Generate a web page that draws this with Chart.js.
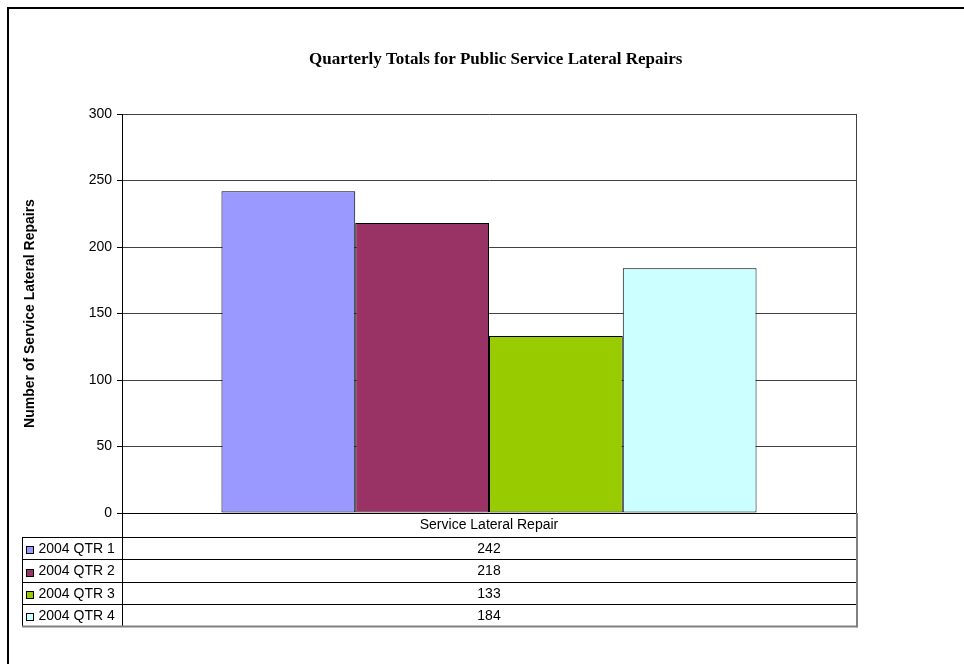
<!DOCTYPE html>
<html>
<head>
<meta charset="utf-8">
<script src="https://cdn.jsdelivr.net/npm/chart.js@4/dist/chart.umd.min.js"></script>
<style>
html,body{margin:0;padding:0;background:#fff;}
#wrap{width:964px;height:664px;position:relative;}
</style>
</head>
<body>
<div id="wrap"><canvas id="c" width="964" height="664"></canvas></div>
<script>
const categories = ['Service Lateral Repair'];
const seriesNames = ['2004 QTR 1', '2004 QTR 2', '2004 QTR 3', '2004 QTR 4'];
const qtr1 = [242];
const qtr2 = [218];
const qtr3 = [133];
const qtr4 = [184];
const seriesColors = ['#9999FF', '#993366', '#99CC00', '#CCFFFF'];
const yTicks = [0, 50, 100, 150, 200, 250, 300];
const titleText = 'Quarterly Totals for Public Service Lateral Repairs';
const yTitle = 'Number of Service Lateral Repairs';

const seriesValues = [qtr1, qtr2, qtr3, qtr4];
const SANS = "'Liberation Sans', Arial, sans-serif";
const SERIF = "'Liberation Serif', 'Times New Roman', serif";

const framePlugin = {
  id: 'frame',
  beforeDraw(chart) {
    const ctx = chart.ctx;
    ctx.save();
    ctx.fillStyle = '#fff';
    ctx.fillRect(0, 0, chart.width, chart.height);
    ctx.strokeStyle = '#000';
    ctx.lineWidth = 2;
    ctx.strokeRect(8, 8, chart.width + 20, chart.height + 20);
    ctx.restore();
  }
};

const tablePlugin = {
  id: 'dataTable',
  afterDraw(chart) {
    const ctx = chart.ctx;
    const a = chart.chartArea;
    const xL = 22, xA = a.left, xR = a.right;
    const headH = 24, rowH = 22.4;
    const top = a.bottom;
    const n = chart.data.datasets.length;
    const bottom = top + headH + rowH * n;
    ctx.save();
    ctx.lineWidth = 1;
    ctx.strokeStyle = '#000';
    for (let i = 0; i < n; i++) {
      const y = Math.round(top + headH + rowH * i) + 0.5;
      ctx.beginPath(); ctx.moveTo(xL, y); ctx.lineTo(xR, y); ctx.stroke();
    }
    ctx.beginPath(); ctx.moveTo(xL + 0.5, Math.round(top + headH)); ctx.lineTo(xL + 0.5, bottom); ctx.stroke();
    ctx.beginPath(); ctx.moveTo(Math.round(xA) + 0.5, top); ctx.lineTo(Math.round(xA) + 0.5, bottom); ctx.stroke();
    ctx.strokeStyle = '#808080';
    ctx.lineWidth = 2;
    ctx.beginPath(); ctx.moveTo(xL, bottom); ctx.lineTo(xR + 1, bottom); ctx.stroke();
    ctx.beginPath(); ctx.moveTo(Math.round(xR) + 1, top); ctx.lineTo(Math.round(xR) + 1, bottom + 1); ctx.stroke();
    ctx.font = '14px ' + SANS;
    ctx.textBaseline = 'middle';
    chart.data.datasets.forEach((ds, i) => {
      const yc = top + headH + rowH * i + rowH / 2;
      ctx.fillStyle = ds.backgroundColor;
      ctx.fillRect(26, Math.round(yc) - 2, 8, 8);
      ctx.strokeStyle = '#000';
      ctx.lineWidth = 1;
      ctx.strokeRect(26.5, Math.round(yc) - 1.5, 7, 7);
      ctx.fillStyle = '#000';
      ctx.textAlign = 'left';
      ctx.fillText(ds.label, 38.5, yc + 1);
      ctx.textAlign = 'center';
      ctx.fillText(String(ds.data[0]), (xA + xR) / 2, yc + 1);
    });
    ctx.restore();
  }
};

new Chart(document.getElementById('c'), {
  type: 'bar',
  data: {
    labels: categories,
    datasets: seriesNames.map((name, i) => ({
      label: name,
      data: seriesValues[i],
      backgroundColor: seriesColors[i],
      borderColor: '#000',
      borderWidth: 1,
      borderSkipped: false,
      categoryPercentage: 0.729,
      barPercentage: 1.0,
      yAxisID: 'y'
    }))
  },
  options: {
    responsive: false,
    animation: false,
    layout: { padding: { left: 27.4, right: 0, top: 0, bottom: 37 } },
    plugins: {
      legend: { display: false },
      tooltip: { enabled: false },
      title: {
        display: true,
        text: titleText,
        color: '#000',
        font: { family: SERIF, size: 17, weight: 'bold' },
        padding: { top: 49.3, bottom: 44.3 }
      }
    },
    scales: {
      x: {
        type: 'category',
        grid: { display: true, color: '#404040', lineWidth: 1, drawTicks: false, offset: true },
        border: { display: true, color: '#000', width: 1 },
        ticks: { color: '#000', font: { family: SANS, size: 14 }, padding: 4, maxRotation: 0 },
        afterFit(scale) { scale.height = 114; }
      },
      y: {
        position: 'left',
        min: 0,
        max: 300,
        afterBuildTicks(scale) { scale.ticks = yTicks.map(v => ({ value: v })); },
        grid: { color: '#404040', lineWidth: 1, tickLength: 5, tickColor: '#000' },
        border: { display: true, color: '#000', width: 1 },
        ticks: { color: '#000', font: { family: SANS, size: 14 }, padding: 5 },
        title: {
          display: true,
          text: yTitle,
          color: '#000',
          font: { family: SANS, size: 14, weight: 'bold' },
          padding: { top: -5.8, bottom: 0 }
        },
        afterFit(scale) { scale.width = 94.6; }
      },
      yRight: {
        type: 'linear',
        position: 'right',
        display: true,
        grid: { display: false, drawTicks: false },
        border: { display: false },
        ticks: { display: false },
        afterFit(scale) { scale.width = 108; }
      }
    }
  },
  plugins: [framePlugin, tablePlugin]
});
</script>
</body>
</html>
